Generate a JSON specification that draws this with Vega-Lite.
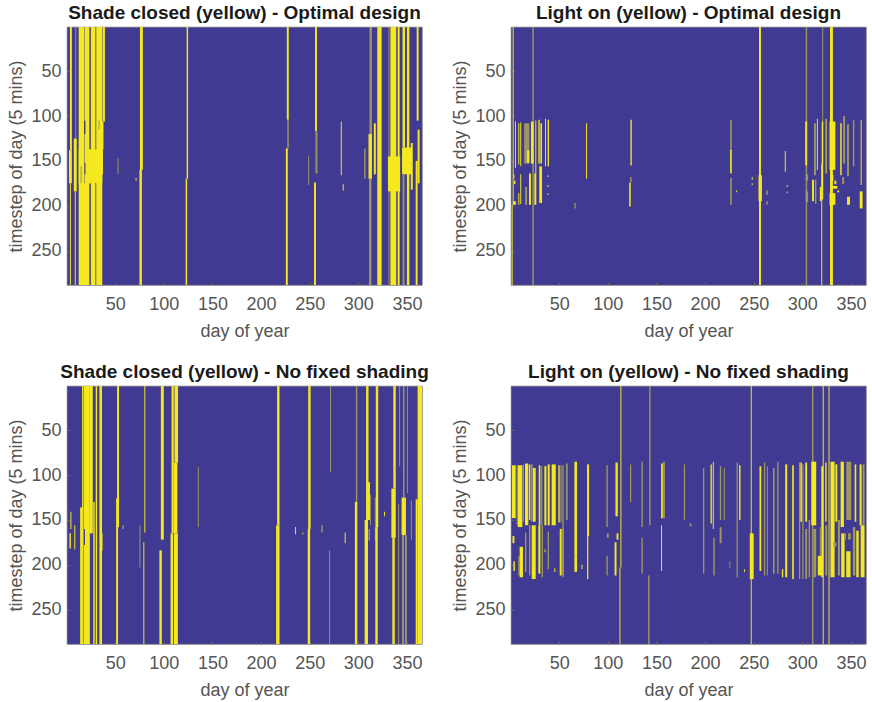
{"$schema":"https://vega.github.io/schema/vega-lite/v6.json","padding":{"left":6,"top":3,"right":0,"bottom":0},"autosize":{"type":"pad"},"background":"white",
"config":{"view":{"fill":"#403a93","stroke":"#666666","strokeWidth":0.7},"font":"Liberation Sans",
"title":{"font":"Liberation Sans","fontSize":19,"fontWeight":"bold","color":"#1a1a1a","frame":"group","anchor":"middle","offset":4},
"axis":{"grid":false,"labelFont":"Liberation Sans","titleFont":"Liberation Sans","labelFontSize":18,"titleFontSize":18,"titleFontWeight":"normal","labelColor":"#555555","titleColor":"#555555","domain":false,"tickColor":"#666666","tickSize":-3,"labelPadding":9,"zindex":1,"labelFlush":false,"labelOverlap":false},
"axisY":{"minExtent":36,"maxExtent":36,"titlePadding":6},"axisX":{"titlePadding":9,"labelPadding":13}},
"datasets":{
"p1":[
{"a":3.5,"b":5.5,"s":0.5,"e":138,"k":"y"},{"a":2.5,"b":5.5,"s":138,"e":175,"k":"y"},{"a":3.5,"b":4.5,"s":175,"e":288.5,"k":"y"},
{"a":9,"b":10,"s":0.5,"e":125,"k":"o"},{"a":7.5,"b":10.5,"s":125,"e":184,"k":"y"},{"a":8.5,"b":9.5,"s":184,"e":288.5,"k":"y"},
{"a":12.5,"b":23.5,"s":0.5,"e":288.5,"k":"y"},{"a":25,"b":29.5,"s":0.5,"e":288.5,"k":"y"},{"a":30.5,"b":37,"s":0.5,"e":288.5,"k":"y"},{"a":12.5,"b":37.5,"s":137,"e":175,"k":"y"},
{"a":37.5,"b":39.5,"s":0.5,"e":106,"k":"y"},{"a":36.5,"b":38,"s":106,"e":137,"k":"y"},
{"a":18,"b":19,"s":0.5,"e":105,"k":"o"},{"a":18,"b":19.5,"s":105,"e":120,"k":"n"},{"a":18,"b":19,"s":120,"e":175,"k":"o"},{"a":18.5,"b":19.5,"s":152,"e":165,"k":"n"},
{"a":29.5,"b":30.5,"s":0.5,"e":137,"k":"o"},{"a":29.5,"b":30.5,"s":175,"e":288.5,"k":"o"},{"a":33,"b":34,"s":105,"e":115,"k":"o"},{"a":14.5,"b":15.5,"s":156,"e":175,"k":"o"},{"a":37,"b":38,"s":165,"e":288.5,"k":"n"},
{"a":75.5,"b":78.5,"s":0.5,"e":160,"k":"y"},{"a":75,"b":77.5,"s":160,"e":288.5,"k":"y"},
{"a":123.5,"b":125,"s":0.5,"e":170,"k":"y"},{"a":122.5,"b":124,"s":170,"e":288.5,"k":"y"},
{"a":226.5,"b":228.5,"s":0.5,"e":104,"k":"y"},{"a":227,"b":228.5,"s":104,"e":136,"k":"o"},{"a":225.5,"b":227.5,"s":136,"e":288.5,"k":"y"},
{"a":255.5,"b":257.5,"s":0.5,"e":117,"k":"y"},{"a":256,"b":258,"s":117,"e":164,"k":"o"},{"a":254.5,"b":256.5,"s":174,"e":288.5,"k":"y"},
{"a":248.5,"b":249.5,"s":144,"e":177,"k":"o"},{"a":282,"b":283,"s":106,"e":166,"k":"y"},{"a":284,"b":285,"s":176,"e":183,"k":"y"},{"a":52.5,"b":53.5,"s":147,"e":165,"k":"o"},{"a":71,"b":72,"s":169,"e":172,"k":"y"},
{"a":306,"b":307.5,"s":136,"e":170,"k":"o"},{"a":311.5,"b":314,"s":0.5,"e":120,"k":"o"},{"a":310.5,"b":314,"s":120,"e":170,"k":"y"},{"a":311,"b":313.5,"s":170,"e":288.5,"k":"o"},
{"a":316,"b":318,"s":108,"e":165,"k":"y"},{"a":319.5,"b":324,"s":0.5,"e":288.5,"k":"y"},
{"a":331,"b":332,"s":0.5,"e":288.5,"k":"o"},{"a":333,"b":339,"s":0.5,"e":288.5,"k":"y"},{"a":330.5,"b":343,"s":145,"e":184,"k":"y"},{"a":340.5,"b":342.5,"s":0.5,"e":288.5,"k":"y"},
{"a":345.5,"b":348,"s":0.5,"e":135,"k":"y"},{"a":345,"b":355,"s":135,"e":165,"k":"y"},{"a":345.5,"b":347.5,"s":165,"e":288.5,"k":"o"},{"a":350,"b":352.5,"s":0.5,"e":288.5,"k":"y"},{"a":354,"b":356,"s":130,"e":182,"k":"y"},
{"a":360,"b":362,"s":0.5,"e":105,"k":"y"},{"a":361,"b":363,"s":115,"e":175,"k":"y"},{"a":359,"b":361,"s":150,"e":288.5,"k":"y"}
],
"p2":[
{"a":2.2,"b":3.2,"s":0.5,"e":199,"k":"y"},{"a":1.2,"b":2.2,"s":199,"e":288.5,"k":"y"},{"a":22.5,"b":24,"s":0.5,"e":288.5,"k":"o"},
{"a":255.5,"b":257.5,"s":0.5,"e":288.5,"k":"y"},{"a":303.5,"b":305,"s":0.5,"e":288.5,"k":"o"},{"a":320.5,"b":321.5,"s":0.5,"e":153,"k":"o"},{"a":319.5,"b":320.5,"s":153,"e":288.5,"k":"y"},{"a":328.5,"b":331.5,"s":0.5,"e":288.5,"k":"y"},
{"a":4.6,"b":5.6,"s":106,"e":158,"k":"y"},{"a":8,"b":9,"s":108,"e":154,"k":"y"},{"a":10,"b":11,"s":107,"e":156,"k":"y"},{"a":14,"b":19.4,"s":108,"e":153,"k":"o"},{"a":17,"b":19.4,"s":138,"e":152,"k":"y"},{"a":21,"b":23.8,"s":106,"e":153,"k":"y"},{"a":25.5,"b":26.5,"s":105,"e":164,"k":"y"},{"a":28.6,"b":30,"s":104,"e":153,"k":"y"},{"a":30.7,"b":32.4,"s":108,"e":153,"k":"y"},{"a":35.5,"b":36.5,"s":103,"e":156,"k":"y"},{"a":38.2,"b":39.6,"s":104,"e":156,"k":"y"},
{"a":2.5,"b":5.5,"s":195,"e":199,"k":"y"},{"a":8,"b":9,"s":186,"e":199,"k":"y"},{"a":10,"b":11,"s":165,"e":198,"k":"y"},{"a":15,"b":17,"s":179,"e":199,"k":"o"},{"a":19,"b":21,"s":164,"e":199,"k":"y"},{"a":24.5,"b":26.5,"s":164,"e":199,"k":"y"},{"a":29.6,"b":32.4,"s":156,"e":197,"k":"y"},{"a":38,"b":39,"s":166,"e":168,"k":"y"},{"a":38,"b":39,"s":177,"e":179,"k":"y"},{"a":38,"b":39,"s":186,"e":188,"k":"y"},{"a":3,"b":4,"s":165,"e":170,"k":"y"},{"a":3.5,"b":5,"s":172,"e":176,"k":"y"},
{"a":77.7,"b":78.7,"s":108,"e":170,"k":"y"},{"a":65.6,"b":67,"s":197,"e":203,"k":"o"},{"a":123.3,"b":124.7,"s":104,"e":155,"k":"y"},{"a":122,"b":123.6,"s":174,"e":201,"k":"y"},{"a":123,"b":124.5,"s":168,"e":174,"k":"o"},
{"a":225.8,"b":227.5,"s":104,"e":136,"k":"o"},{"a":225.8,"b":227.5,"s":137,"e":164,"k":"y"},{"a":225.8,"b":227.5,"s":169,"e":199,"k":"o"},
{"a":232,"b":233,"s":183,"e":185,"k":"y"},{"a":248,"b":249,"s":168,"e":171,"k":"y"},{"a":248,"b":249,"s":175,"e":177,"k":"y"},{"a":255,"b":258.5,"s":166,"e":195,"k":"y"},{"a":263,"b":264.5,"s":183,"e":188,"k":"o"},{"a":263,"b":264.5,"s":195,"e":199,"k":"o"},{"a":282,"b":283,"s":139,"e":162,"k":"y"},{"a":284,"b":285,"s":177,"e":179,"k":"y"},{"a":284,"b":285,"s":184,"e":186,"k":"y"},
{"a":303,"b":305,"s":106,"e":155,"k":"y"},{"a":303.5,"b":306,"s":165,"e":172,"k":"o"},{"a":303.5,"b":306,"s":184,"e":196,"k":"o"},{"a":310,"b":312,"s":171,"e":195,"k":"y"},{"a":313,"b":314.5,"s":171,"e":198,"k":"o"},{"a":312,"b":314,"s":108,"e":166,"k":"o"},{"a":315,"b":316,"s":103,"e":160,"k":"y"},{"a":318,"b":320,"s":179,"e":195,"k":"y"},{"a":320,"b":321.5,"s":106,"e":193,"k":"y"},{"a":324,"b":325,"s":103,"e":164,"k":"y"},{"a":328,"b":334,"s":106,"e":160,"k":"y"},{"a":328,"b":334,"s":186,"e":199,"k":"y"},{"a":330,"b":332,"s":166,"e":172,"k":"y"},{"a":333,"b":335,"s":172,"e":176,"k":"y"},{"a":331,"b":336,"s":178,"e":181,"k":"y"},{"a":336,"b":338,"s":183,"e":185,"k":"y"},{"a":339,"b":340.5,"s":108,"e":166,"k":"y"},{"a":342,"b":344,"s":100,"e":153,"k":"o"},{"a":341,"b":343,"s":168,"e":176,"k":"o"},{"a":346,"b":348,"s":109,"e":167,"k":"o"},{"a":352,"b":353.5,"s":104,"e":156,"k":"o"},{"a":346,"b":349,"s":190,"e":199,"k":"y"},{"a":360,"b":361,"s":104,"e":177,"k":"y"},{"a":359,"b":362,"s":184,"e":203,"k":"y"}
],
"p3":[
{"a":16,"b":17.5,"s":0.5,"e":288.5,"k":"y"},{"a":18,"b":24,"s":0.5,"e":288.5,"k":"y"},{"a":14,"b":16.5,"s":136,"e":288.5,"k":"y"},{"a":24,"b":27,"s":0.5,"e":165,"k":"y"},{"a":30,"b":31.5,"s":0.5,"e":288.5,"k":"y"},{"a":33.8,"b":36.5,"s":0.5,"e":288.5,"k":"y"},{"a":36,"b":37,"s":165,"e":184,"k":"y"},{"a":27.5,"b":29,"s":130,"e":288.5,"k":"y"},{"a":18,"b":19,"s":160,"e":178,"k":"n"},
{"a":4,"b":5,"s":141,"e":160,"k":"y"},{"a":3,"b":4.5,"s":165,"e":182,"k":"y"},{"a":8,"b":9,"s":156,"e":183,"k":"y"},
{"a":52,"b":54,"s":0.5,"e":158,"k":"y"},{"a":51,"b":53,"s":126,"e":288.5,"k":"y"},{"a":57.5,"b":59,"s":156,"e":160,"k":"o"},
{"a":75,"b":76,"s":156,"e":203,"k":"o"},{"a":80,"b":81,"s":0.5,"e":164,"k":"y"},{"a":79,"b":80,"s":175,"e":288.5,"k":"y"},
{"a":97,"b":100,"s":0.5,"e":172,"k":"y"},{"a":95.5,"b":98,"s":184,"e":288.5,"k":"y"},
{"a":108,"b":110.3,"s":0.5,"e":165,"k":"y"},{"a":111,"b":114.7,"s":0.5,"e":86,"k":"y"},{"a":110.5,"b":114,"s":86,"e":165,"k":"y"},{"a":107,"b":109.6,"s":165,"e":288.5,"k":"y"},{"a":110.5,"b":114.5,"s":165,"e":288.5,"k":"y"},
{"a":135,"b":136,"s":91,"e":158,"k":"o"},
{"a":216.5,"b":219,"s":0.5,"e":156,"k":"y"},{"a":215.5,"b":219,"s":156,"e":288.5,"k":"y"},
{"a":248.5,"b":251,"s":0.5,"e":160,"k":"y"},{"a":248,"b":250.5,"s":160,"e":288.5,"k":"y"},{"a":235,"b":236,"s":158,"e":166,"k":"y"},{"a":242.5,"b":243.5,"s":164,"e":166,"k":"y"},{"a":262,"b":263.5,"s":156,"e":164,"k":"o"},
{"a":271,"b":272,"s":0.5,"e":97,"k":"o"},{"a":270,"b":271,"s":184,"e":288.5,"k":"o"},{"a":286,"b":287,"s":164,"e":176,"k":"y"},
{"a":297.5,"b":299,"s":0.5,"e":130,"k":"o"},{"a":296.5,"b":299,"s":130,"e":288.5,"k":"y"},
{"a":308,"b":310.5,"s":0.5,"e":150,"k":"y"},{"a":306.5,"b":310,"s":150,"e":288.5,"k":"y"},{"a":310,"b":312,"s":108,"e":150,"k":"y"},{"a":312,"b":313,"s":122,"e":156,"k":"o"},{"a":310.5,"b":312,"s":160,"e":173,"k":"o"},{"a":317,"b":318,"s":125,"e":173,"k":"o"},
{"a":318,"b":320.5,"s":0.5,"e":158,"k":"y"},{"a":317.5,"b":320,"s":158,"e":288.5,"k":"y"},{"a":326.5,"b":327.5,"s":141,"e":146,"k":"y"},
{"a":336,"b":338.5,"s":0.5,"e":115,"k":"y"},{"a":334,"b":338.5,"s":115,"e":170,"k":"y"},{"a":335,"b":337.5,"s":170,"e":288.5,"k":"y"},
{"a":342,"b":343,"s":0.5,"e":90,"k":"o"},{"a":341,"b":342,"s":132,"e":288.5,"k":"o"},
{"a":346,"b":347.5,"s":0.5,"e":125,"k":"o"},{"a":344.5,"b":349,"s":125,"e":167,"k":"y"},{"a":345,"b":347,"s":167,"e":288.5,"k":"o"},{"a":348,"b":350,"s":167,"e":288.5,"k":"o"},{"a":350,"b":351,"s":0.5,"e":120,"k":"o"},{"a":354,"b":355,"s":128,"e":172,"k":"o"},
{"a":361,"b":365.5,"s":0.5,"e":288.5,"k":"y"},{"a":359,"b":361,"s":127,"e":288.5,"k":"y"}
],
"p4":[
{"a":113,"b":114,"s":0.5,"e":203,"k":"y"},{"a":112,"b":113,"s":203,"e":288.5,"k":"y"},{"a":142.5,"b":144,"s":0.5,"e":156,"k":"o"},{"a":141.5,"b":143,"s":212,"e":288.5,"k":"o"},{"a":247,"b":248,"s":0.5,"e":288.5,"k":"y"},{"a":310,"b":311.5,"s":0.5,"e":288.5,"k":"o"},{"a":321,"b":322,"s":0.5,"e":288.5,"k":"y"},{"a":327,"b":328,"s":0.5,"e":288.5,"k":"y"},
{"a":1.5,"b":5.3,"s":89,"e":148,"k":"y"},{"a":6.3,"b":7.2,"s":89,"e":155,"k":"o"},{"a":7.4,"b":12.2,"s":89,"e":158,"k":"y"},{"a":12.8,"b":13.9,"s":88,"e":152,"k":"o"},{"a":14.9,"b":18.3,"s":87,"e":156,"k":"y"},{"a":19,"b":20.4,"s":88,"e":150,"k":"y"},{"a":21,"b":22.8,"s":88,"e":152,"k":"o"},{"a":23.1,"b":25.9,"s":92,"e":152,"k":"y"},{"a":29,"b":30.7,"s":89,"e":156,"k":"y"},{"a":31.4,"b":32.7,"s":90,"e":156,"k":"o"},{"a":34.8,"b":36.9,"s":90,"e":156,"k":"y"},{"a":38.2,"b":40.3,"s":88,"e":156,"k":"y"},{"a":42.3,"b":46.5,"s":88,"e":156,"k":"y"},{"a":49.2,"b":50.6,"s":89,"e":153,"k":"y"},{"a":51.3,"b":52.6,"s":89,"e":153,"k":"o"},{"a":53.3,"b":54.7,"s":89,"e":214,"k":"o"},{"a":57,"b":58.8,"s":87,"e":150,"k":"o"},{"a":65.7,"b":68.4,"s":85,"e":190,"k":"y"},{"a":78.7,"b":80.8,"s":88,"e":168,"k":"y"},{"a":98.6,"b":100,"s":89,"e":158,"k":"o"},{"a":107.9,"b":110.3,"s":86,"e":146,"k":"y"},{"a":123.3,"b":124,"s":88,"e":130,"k":"y"},{"a":134.6,"b":136,"s":85,"e":158,"k":"o"},{"a":154.8,"b":156.6,"s":87,"e":148,"k":"y"},{"a":157.3,"b":158.3,"s":85,"e":148,"k":"y"},{"a":178.2,"b":179.5,"s":88,"e":150,"k":"o"},{"a":198.4,"b":199.1,"s":92,"e":210,"k":"y"},{"a":205.6,"b":207,"s":88,"e":154,"k":"y"},{"a":208,"b":209,"s":85,"e":160,"k":"y"},{"a":215.2,"b":216.6,"s":90,"e":150,"k":"o"},{"a":219.3,"b":220.4,"s":92,"e":150,"k":"o"},{"a":232.4,"b":233.7,"s":86,"e":214,"k":"o"},{"a":235,"b":236.5,"s":89,"e":150,"k":"y"},
{"a":8,"b":9.4,"s":190,"e":212,"k":"o"},{"a":9.4,"b":12.8,"s":180,"e":214,"k":"y"},{"a":14.9,"b":16.3,"s":164,"e":208,"k":"o"},{"a":19,"b":20.4,"s":156,"e":212,"k":"o"},{"a":21.8,"b":25.9,"s":156,"e":216,"k":"y"},{"a":28.6,"b":30.7,"s":156,"e":210,"k":"y"},{"a":32,"b":33.4,"s":156,"e":214,"k":"o"},{"a":38.2,"b":39.6,"s":163,"e":205,"k":"o"},{"a":50.6,"b":52.6,"s":160,"e":212,"k":"y"},{"a":52.6,"b":54.7,"s":160,"e":212,"k":"o"},{"a":65.7,"b":68.4,"s":190,"e":208,"k":"y"},{"a":78.7,"b":80,"s":168,"e":216,"k":"y"},{"a":98.6,"b":100,"s":190,"e":212,"k":"o"},{"a":107,"b":109,"s":175,"e":212,"k":"y"},{"a":134.6,"b":136,"s":170,"e":210,"k":"o"},{"a":154.8,"b":155.8,"s":156,"e":207,"k":"y"},{"a":208.5,"b":210,"s":170,"e":212,"k":"o"},{"a":2,"b":4,"s":168,"e":176,"k":"y"},{"a":3,"b":4.5,"s":196,"e":207,"k":"y"},{"a":35,"b":36,"s":183,"e":186,"k":"y"},{"a":45,"b":46,"s":204,"e":208,"k":"y"},{"a":73,"b":74,"s":200,"e":205,"k":"y"},{"a":99,"b":101,"s":165,"e":170,"k":"o"},{"a":109,"b":111,"s":165,"e":172,"k":"y"},{"a":184,"b":186,"s":154,"e":157,"k":"o"},{"a":225,"b":226,"s":196,"e":204,"k":"o"},{"a":240,"b":241,"s":205,"e":208,"k":"y"},{"a":215,"b":217,"s":158,"e":176,"k":"o"},
{"a":246,"b":250,"s":165,"e":216,"k":"y"},{"a":256,"b":257.8,"s":90,"e":207,"k":"y"},{"a":260.5,"b":261.9,"s":86,"e":212,"k":"o"},{"a":263.6,"b":264.6,"s":90,"e":212,"k":"o"},{"a":269.8,"b":271.5,"s":92,"e":210,"k":"o"},{"a":274.2,"b":275.6,"s":85,"e":210,"k":"o"},{"a":279,"b":280.4,"s":205,"e":214,"k":"y"},{"a":282.4,"b":284.5,"s":88,"e":214,"k":"y"},{"a":289.6,"b":291.3,"s":89,"e":216,"k":"y"},{"a":296.5,"b":297.9,"s":86,"e":216,"k":"o"},{"a":298,"b":299.6,"s":86,"e":152,"k":"y"},{"a":300,"b":301.3,"s":88,"e":216,"k":"o"},{"a":303,"b":305,"s":86,"e":152,"k":"y"},{"a":303,"b":305,"s":160,"e":216,"k":"o"},{"a":306.5,"b":308,"s":150,"e":214,"k":"o"},{"a":309.2,"b":314.3,"s":85,"e":156,"k":"y"},{"a":311.5,"b":314.3,"s":160,"e":214,"k":"o"},{"a":316,"b":321.2,"s":190,"e":212,"k":"y"},{"a":319.5,"b":321.5,"s":90,"e":214,"k":"y"},{"a":323.6,"b":325,"s":86,"e":152,"k":"y"},{"a":323.6,"b":325.7,"s":156,"e":212,"k":"o"},{"a":329,"b":333.2,"s":85,"e":214,"k":"y"},{"a":334,"b":336,"s":88,"e":152,"k":"y"},{"a":336.6,"b":338.7,"s":150,"e":212,"k":"o"},{"a":339.4,"b":342.8,"s":85,"e":158,"k":"y"},{"a":340,"b":343.5,"s":165,"e":214,"k":"y"},{"a":345.2,"b":350.4,"s":85,"e":150,"k":"o"},{"a":345.2,"b":349.6,"s":185,"e":214,"k":"y"},{"a":352,"b":354.5,"s":158,"e":212,"k":"o"},{"a":353.8,"b":355.5,"s":88,"e":152,"k":"y"},{"a":355.5,"b":358,"s":162,"e":214,"k":"y"},{"a":358.9,"b":361,"s":88,"e":156,"k":"y"},{"a":362,"b":364,"s":88,"e":156,"k":"o"},{"a":360,"b":364,"s":156,"e":214,"k":"y"},{"a":318,"b":320,"s":158,"e":190,"k":"o"},{"a":332,"b":335,"s":175,"e":180,"k":"o"},{"a":343,"b":345,"s":165,"e":172,"k":"o"},{"a":347,"b":350,"s":165,"e":172,"k":"o"}
]},
"columns":2,"spacing":{"row":21,"column":20},
"concat":[
{"width":355,"height":258,"title":"Shade closed (yellow) - Optimal design","data":{"name":"p1"},"mark":{"type":"rect"},"encoding":{
"x":{"field":"a","type":"quantitative","title":"day of year","scale":{"domain":[0.5,365.5],"nice":false,"zero":false},"axis":{"values":[50,100,150,200,250,300,350]}},"x2":{"field":"b"},
"y":{"field":"s","type":"quantitative","title":"timestep of day (5 mins)","scale":{"domain":[288.5,0.5],"nice":false,"zero":false},"axis":{"values":[50,100,150,200,250]}},"y2":{"field":"e"},
"color":{"field":"k","type":"nominal","legend":null,"scale":{"domain":["y","o","n"],"range":["#f3e91e","#9c9660","#403a93"]}}}},
{"width":355,"height":258,"title":"Light on (yellow) - Optimal design","data":{"name":"p2"},"mark":{"type":"rect"},"encoding":{
"x":{"field":"a","type":"quantitative","title":"day of year","scale":{"domain":[0.5,365.5],"nice":false,"zero":false},"axis":{"values":[50,100,150,200,250,300,350]}},"x2":{"field":"b"},
"y":{"field":"s","type":"quantitative","title":"timestep of day (5 mins)","scale":{"domain":[288.5,0.5],"nice":false,"zero":false},"axis":{"values":[50,100,150,200,250]}},"y2":{"field":"e"},
"color":{"field":"k","type":"nominal","legend":null,"scale":{"domain":["y","o","n"],"range":["#f3e91e","#9c9660","#403a93"]}}}},
{"width":355,"height":258,"title":"Shade closed (yellow) - No fixed shading","data":{"name":"p3"},"mark":{"type":"rect"},"encoding":{
"x":{"field":"a","type":"quantitative","title":"day of year","scale":{"domain":[0.5,365.5],"nice":false,"zero":false},"axis":{"values":[50,100,150,200,250,300,350]}},"x2":{"field":"b"},
"y":{"field":"s","type":"quantitative","title":"timestep of day (5 mins)","scale":{"domain":[288.5,0.5],"nice":false,"zero":false},"axis":{"values":[50,100,150,200,250]}},"y2":{"field":"e"},
"color":{"field":"k","type":"nominal","legend":null,"scale":{"domain":["y","o","n"],"range":["#f3e91e","#9c9660","#403a93"]}}}},
{"width":355,"height":258,"title":"Light on (yellow) - No fixed shading","data":{"name":"p4"},"mark":{"type":"rect"},"encoding":{
"x":{"field":"a","type":"quantitative","title":"day of year","scale":{"domain":[0.5,365.5],"nice":false,"zero":false},"axis":{"values":[50,100,150,200,250,300,350]}},"x2":{"field":"b"},
"y":{"field":"s","type":"quantitative","title":"timestep of day (5 mins)","scale":{"domain":[288.5,0.5],"nice":false,"zero":false},"axis":{"values":[50,100,150,200,250]}},"y2":{"field":"e"},
"color":{"field":"k","type":"nominal","legend":null,"scale":{"domain":["y","o","n"],"range":["#f3e91e","#9c9660","#403a93"]}}}}
]}
